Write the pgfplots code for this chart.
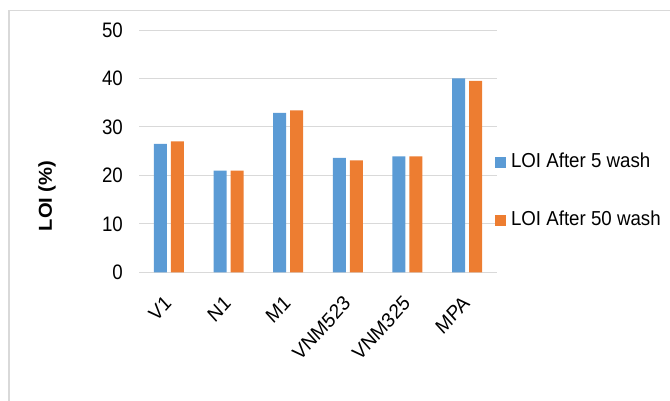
\documentclass[border=0pt]{standalone}
\usepackage{pgfplots}
\pgfplotsset{compat=1.18}
\usepackage{fontspec}
\setmainfont{Liberation Sans}

\definecolor{washblue}{HTML}{5B9BD5}
\definecolor{washorange}{HTML}{ED7D31}
\definecolor{gridgray}{HTML}{D9D9D9}

\begin{document}
\begin{tikzpicture}
\path[use as bounding box] (0,0) rectangle (670bp,401bp);
% chart frame (only top and left edges fall inside the picture)
\draw[gridgray, line width=1.6bp] (9bp,0bp) -- (9bp,390.3bp) -- (672bp,390.3bp);

\begin{axis}[
  at={(139bp,128.7bp)}, anchor=south west,
  scale only axis, width=358bp, height=242.3bp,
  ybar=4bp, bar width=13bp,
  xmin=-0.5, xmax=5.5, ymin=0, ymax=50,
  xtick={0,1,2,3,4,5},
  xticklabels={V1,N1,M1,VNM523,VNM325,MPA},
  ytick={0,10,20,30,40,50},
  major tick length=0pt,
  axis x line*=bottom, axis y line*=left,
  x axis line style={gridgray, line width=1.2bp, -},
  y axis line style={draw=none},
  ymajorgrids, grid style={gridgray, line width=1bp},
  tick label style={font=\fontsize{18.7bp}{22bp}\selectfont, inner sep=0pt},
  /pgf/number format/assume math mode=true,
  yticklabel style={anchor=east, xshift=-16bp, yscale=1.12},
  xticklabel style={xshift=-5.5bp, yshift=-22bp, yscale=1.1, rotate=45, anchor=north east},
  legend style={at={(0.994,0.333)}, anchor=west, draw=none, fill=none,
    font=\fontsize{18.7bp}{22bp}\selectfont, inner sep=0pt,
    row sep=40bp, column sep=0pt,
    nodes={inner sep=0pt, text height=13bp, text depth=4bp, yscale=1.08}},
  legend cell align=left,
  legend image code/.code={\fill[#1] (0bp,-5.5bp) rectangle (11bp,5.5bp);},
  clip=false,
]
\addplot[fill=washblue, draw=none] coordinates
  {(0,26.5) (1,21.0) (2,32.9) (3,23.6) (4,23.9) (5,40.0)};
\addlegendentry{\hspace{5bp}LOI After 5 wash}
\addplot[fill=washorange, draw=none] coordinates
  {(0,27.0) (1,21.0) (2,33.4) (3,23.1) (4,23.9) (5,39.5)};
\addlegendentry{\hspace{5bp}LOI After 50 wash}
\end{axis}

\node[yscale=1.08, rotate=90, font=\bfseries\fontsize{18.7bp}{22bp}\selectfont, inner sep=0pt]
  at (47bp,205bp) {LOI (\%)};
\end{tikzpicture}
\end{document}
